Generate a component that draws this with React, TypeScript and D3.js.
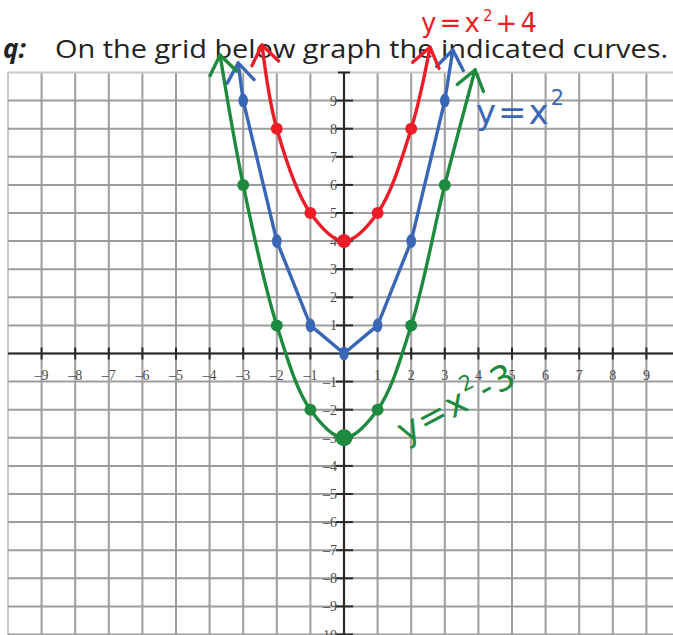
import React from 'react';
import * as d3 from 'd3';

const W = 673;
const H = 635;

// Grid lines and axis ticks
const gridValues = [-10, -9, -8, -7, -6, -5, -4, -3, -2, -1, 0, 1, 2, 3, 4, 5, 6, 7, 8, 9, 10];
const xTickValues = [-9, -8, -7, -6, -5, -4, -3, -2, -1, 1, 2, 3, 4, 5, 6, 7, 8, 9];
const yTickValues = [-10, -9, -8, -7, -6, -5, -4, -3, -2, -1, 1, 2, 3, 4, 5, 6, 7, 8, 9];

// y = x^2
const blueX = [-3, -2, -1, 0, 1, 2, 3];
const blueY = [9, 4, 1, 0, 1, 4, 9];
const blueEnds = [[-3.15, 10.34], [3.24, 10.8]];

// y = x^2 + 4
const redX = [-2, -1, 0, 1, 2];
const redY = [8, 5, 4, 5, 8];
const redEnds = [[-2.44, 10.98], [2.56, 10.9]];

// y = x^2 - 3
const greenX = [-3, -2, -1, 0, 1, 2, 3];
const greenY = [6, 1, -2, -3, -2, 1, 6];
const greenEnds = [[-3.69, 10.62], [3.9, 10.09]];

const RED = '#ec1d26';
const BLUE = '#3a66b6';
const GREEN = '#1e8a3e';

const fmt = (v: number) => (v < 0 ? '\u2013' + Math.abs(v) : String(v));

export default function App() {
  const x = d3.scaleLinear().domain([-10, 10]).range([8, 680]);
  const y = d3.scaleLinear().domain([-10, 10]).range([634.5, 72.5]);
  const x0 = x(0);
  const y0 = y(0);

  const smooth = d3
    .line<number[]>()
    .x((d) => x(d[0]))
    .y((d) => y(d[1]))
    .curve(d3.curveCatmullRom.alpha(0.5));
  const straight = d3
    .line<number[]>()
    .x((d) => x(d[0]))
    .y((d) => y(d[1]))
    .curve(d3.curveLinear);

  const series = [
    { xs: blueX, ys: blueY, ends: blueEnds, color: BLUE, key: 'blue', gen: straight },
    { xs: redX, ys: redY, ends: redEnds, color: RED, key: 'red', gen: smooth },
    { xs: greenX, ys: greenY, ends: greenEnds, color: GREEN, key: 'green', gen: smooth },
  ];

  const arrowHead = (tip: number[], prev: number[], color: string, k: string) => {
    const tx = x(tip[0]);
    const ty = y(tip[1]);
    const px = x(prev[0]);
    const py = y(prev[1]);
    const ang = Math.atan2(ty - py, tx - px);
    const len = 23;
    const spread = (36 * Math.PI) / 180;
    const a1 = ang + Math.PI - spread;
    const a2 = ang + Math.PI + spread;
    const d = `M${tx + len * Math.cos(a1)},${ty + len * Math.sin(a1)} L${tx},${ty} L${tx + len * Math.cos(a2)},${ty + len * Math.sin(a2)}`;
    return (
      <path key={k} d={d} fill="none" stroke={color} strokeWidth={3.4} strokeLinecap="round" strokeLinejoin="round" />
    );
  };

  const hand = "'DejaVu Sans', sans-serif";

  return (
    <svg
      width={W}
      height={H}
      viewBox={`0 0 ${W} ${H}`}
      style={{ position: 'fixed', left: 0, top: 0, background: '#fff' }}
    >
      <rect x={0} y={0} width={W} height={H} fill="#fff" />

      {/* heading */}
      <text x={3} y={58} fontFamily="'Open Sans', sans-serif" fontSize={26} fontWeight={700} fontStyle="italic" fill="#222">
        q:
      </text>
      <text x={55} y={58} fontFamily="'Open Sans', sans-serif" fontSize={25.5} fill="#222" textLength={613} lengthAdjust="spacingAndGlyphs">
        On the grid below graph the indicated curves.
      </text>

      {/* grid */}
      <g>
        {gridValues.map((v) => (
          <line
            key={'gx' + v}
            x1={x(v)}
            x2={x(v)}
            y1={y(10)}
            y2={H}
            stroke={v === -10 ? '#c8c8c8' : '#9d9d9d'}
            strokeWidth={2}
          />
        ))}
        {gridValues.map((v) => (
          <line
            key={'gy' + v}
            x1={x(-10)}
            x2={W}
            y1={y(v)}
            y2={y(v)}
            stroke={v === 10 ? '#c8c8c8' : '#9d9d9d'}
            strokeWidth={2}
          />
        ))}
      </g>

      {/* axes */}
      <line x1={x(-10)} x2={W} y1={y0} y2={y0} stroke="#2a2a2a" strokeWidth={2.2} />
      <line x1={x0} x2={x0} y1={y(10)} y2={H} stroke="#2a2a2a" strokeWidth={2.2} />
      <line x1={x0 - 6} x2={x0 + 6} y1={y(10)} y2={y(10)} stroke="#2a2a2a" strokeWidth={2} />

      {xTickValues.map((v) => (
        <g key={'xt' + v}>
          <line x1={x(v)} x2={x(v)} y1={y0 - 6} y2={y0 + 6} stroke="#2a2a2a" strokeWidth={2} />
          <text
            x={x(v)}
            y={380}
            textAnchor="middle"
            fontFamily="'Liberation Serif', serif"
            fontSize={14}
            fill="#4a4a4a"
          >
            {fmt(v)}
          </text>
        </g>
      ))}
      {yTickValues.map((v) => (
        <g key={'yt' + v}>
          <line x1={x0 - 8} x2={x0 + 9} y1={y(v)} y2={y(v)} stroke="#2a2a2a" strokeWidth={2} />
          <text
            x={x0 - 7}
            y={y(v) + 5}
            textAnchor="end"
            fontFamily="'Liberation Serif', serif"
            fontSize={14}
            fill="#4a4a4a"
          >
            {fmt(v)}
          </text>
        </g>
      ))}

      {/* curves */}
      {series.map((s) => {
        const pts = s.xs.map((vx, i) => [vx, s.ys[i]]);
        const full = [s.ends[0], ...pts, s.ends[1]];
        return (
          <g key={s.key}>
            <path d={s.gen(full) || ''} fill="none" stroke={s.color} strokeWidth={3.4} strokeLinecap="round" strokeLinejoin="round" />
            {arrowHead(s.ends[0], pts[0], s.color, s.key + 'a0')}
            {arrowHead(s.ends[1], pts[pts.length - 1], s.color, s.key + 'a1')}
            {pts.map((p, i) =>
              s.key === 'blue' ? (
                <ellipse key={i} cx={x(p[0])} cy={y(p[1])} rx={4.8} ry={7} fill={s.color} />
              ) : (
                <circle
                  key={i}
                  cx={x(p[0])}
                  cy={y(p[1])}
                  r={p[0] === 0 ? (s.key === 'green' ? 8.5 : 7) : 6}
                  fill={s.color}
                />
              )
            )}
          </g>
        );
      })}

      {/* curve labels */}
      <text x={421} y={32} fontFamily={hand} fontSize={26} fill={RED} textLength={116}>
        y=x<tspan dy={-11} fontSize={15}>2</tspan><tspan dy={11}>+4</tspan>
      </text>
      <text x={476} y={124} fontFamily={hand} fontSize={34} fill={BLUE} textLength={88}>
        y=x<tspan dy={-19} fontSize={21}>2</tspan>
      </text>
      <text transform="translate(405,444) rotate(-28)" fontFamily={hand} fontSize={35} fill={GREEN} textLength={128}>
        y=x<tspan dy={-18} fontSize={21}>2</tspan><tspan dy={18}>-3</tspan>
      </text>
    </svg>
  );
}
